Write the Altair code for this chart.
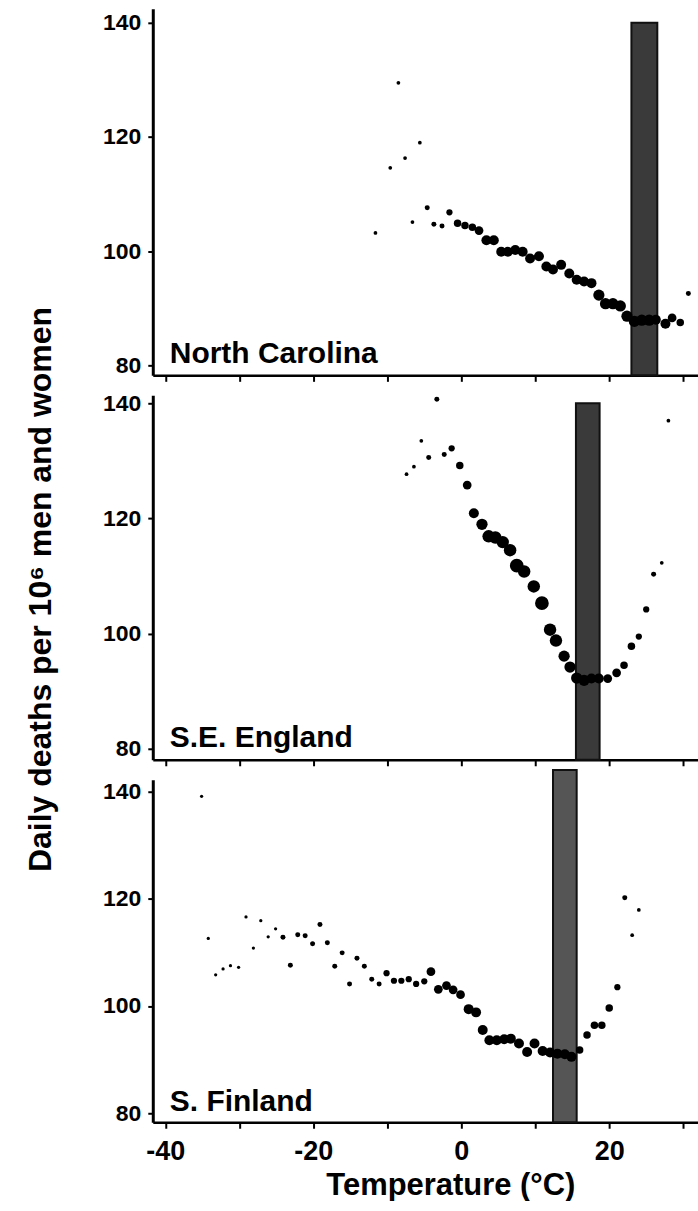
import altair as alt
import pandas as pd

FONT = "Liberation Sans"

# ---- North Carolina ----
nc_temp = [-11.6, -9.6, -8.5, -7.6, -6.6, -5.6, -4.6, -3.7, -2.6, -1.6, -0.5, 0.5, 1.5, 2.4,
           3.4, 4.4, 5.4, 6.3, 7.3, 8.3, 9.3, 10.5, 11.5, 12.4, 13.5, 14.6, 15.6, 16.6, 17.6,
           18.6, 19.5, 20.5, 21.5, 22.4, 23.4, 24.4, 25.4, 26.3, 27.6, 28.5, 29.6, 30.7]
nc_deaths = [103.2, 114.6, 129.5, 116.3, 105.1, 119.0, 107.6, 104.7, 104.4, 106.8, 104.9, 104.5,
             104.2, 103.6, 101.9, 101.9, 99.9, 99.9, 100.2, 99.9, 98.7, 99.1, 97.3, 96.8, 97.6,
             96.1, 95.0, 94.7, 94.4, 92.3, 90.8, 90.8, 90.4, 88.6, 87.7, 87.9, 87.9, 88.0, 87.3,
             88.3, 87.5, 92.6]
nc_weight = [1.5, 1.5, 1.5, 1.5, 1.5, 1.5, 2, 2, 2, 2.5, 3, 3, 3, 3.5, 4, 4, 4, 4, 4, 4, 4, 4, 4,
             4, 4, 4, 4, 4, 4, 4.5, 4.5, 4.5, 4.5, 4.5, 4.5, 4.5, 4.5, 4, 4, 3.5, 3, 2]

# ---- S.E. England ----
se_temp = [-7.4, -6.4, -5.4, -4.4, -3.3, -2.3, -1.3, -0.2, 0.8, 1.7, 2.8, 3.7, 4.6, 5.6, 6.6,
           7.5, 8.5, 9.8, 10.9, 12.0, 12.8, 13.9, 14.7, 15.6, 16.6, 17.6, 18.6, 19.8, 21.0,
           22.0, 23.0, 24.0, 25.0, 26.0, 27.1, 28.0]
se_deaths = [127.7, 129.0, 133.5, 130.6, 140.7, 131.1, 132.2, 129.2, 125.8, 120.9, 119.0, 116.9,
             116.7, 115.9, 114.5, 111.8, 110.8, 108.2, 105.3, 100.7, 98.8, 96.1, 94.2, 92.3,
             91.9, 92.2, 92.2, 92.2, 93.2, 94.5, 97.8, 99.5, 104.2, 110.3, 112.3, 137.0]
se_weight = [1.5, 1.5, 1.5, 2, 2, 2, 2.5, 3, 3.5, 4, 4.5, 5, 5, 5, 5, 5.5, 5, 5, 5.5, 5, 5, 4.5,
             4.5, 4.5, 4.5, 4, 4, 3.5, 3.5, 3, 3, 2.5, 2.5, 2, 1.5, 1.5]

# ---- S. Finland ----
sf_temp = [-35.1, -34.2, -33.2, -32.2, -31.2, -30.1, -29.1, -28.1, -27.1, -26.1, -25.1, -24.1,
           -23.1, -22.1, -21.1, -20.1, -19.1, -18.1, -17.1, -16.1, -15.1, -14.1, -13.1, -12.1,
           -11.1, -10.1, -9.1, -8.1, -7.1, -6.1, -5.0, -4.1, -3.1, -2.0, -1.1, -0.1, 1.0, 2.0,
           2.9, 3.8, 4.8, 5.8, 6.7, 7.8, 8.9, 9.9, 11.0, 12.0, 13.0, 14.0, 14.9, 16.0, 17.0,
           18.0, 19.0, 20.0, 21.1, 22.1, 23.1, 24.0]
sf_deaths = [139.1, 112.6, 105.8, 106.9, 107.5, 107.2, 116.6, 110.8, 115.9, 112.9, 114.4, 112.8,
             107.6, 113.3, 113.1, 111.6, 115.2, 111.8, 107.4, 109.9, 104.1, 108.9, 107.4, 105.0,
             104.1, 106.1, 104.7, 104.7, 105.0, 104.1, 104.6, 106.4, 103.1, 103.8, 103.0, 102.1,
             99.4, 98.8, 95.5, 93.6, 93.6, 93.8, 93.9, 93.0, 91.4, 93.0, 91.6, 91.3, 91.1, 91.0,
             90.5, 91.8, 94.6, 96.4, 96.4, 99.6, 103.5, 120.2, 113.2, 117.9]
sf_weight = [1.3, 1.3, 1.3, 1.3, 1.3, 1.3, 1.3, 1.3, 1.3, 1.3, 1.3, 2, 2, 2, 2, 2, 2, 2, 2, 2, 2,
             2, 2, 2, 2, 2.5, 2.5, 2.5, 2.5, 2.5, 2.5, 3.5, 3.5, 3.5, 3.5, 3.5, 4, 4, 4, 4, 4, 4,
             4, 4, 4, 4, 4, 4, 4, 4, 4, 3, 3, 3, 3, 3, 2.5, 2, 1.5, 1.5]

regions = ["North Carolina", "S.E. England", "S. Finland"]
# comfort zone bands (°C) and their top (deaths)
band_lo = [23.0, 15.5, 12.4]
band_hi = [26.5, 18.7, 15.6]
band_top = [140.0, 140.0, 144.0]
band_fill = ["#3a3a3a", "#3a3a3a", "#555555"]

y_domains = [[78.25, 142.45], [78.1, 141.4], [78.3, 142.2]]
heights = [367, 365, 343]

x_ticks = [-40, -30, -20, -10, 0, 10, 20, 30]
y_ticks = [80, 100, 120, 140]

X_DOMAIN = [-41.7, 32.0]
WIDTH = 546


def panel(i, temps, deaths, weights):
    df = pd.DataFrame({"temp": temps, "deaths": deaths, "weight": weights})
    last = i == 2
    xscale = alt.Scale(domain=X_DOMAIN, nice=False, zero=False)
    yscale = alt.Scale(domain=y_domains[i], nice=False, zero=False)
    xaxis_kw = dict(values=x_ticks, grid=False, tickSize=6, tickWidth=2, domainWidth=2.5,
                    domainColor="black", tickColor="black", labelColor="black",
                    labelFont=FONT, labelFontSize=27, labelFontWeight="bold",
                    labelPadding=10, labelFlush=False, labelOverlap=False)
    if last:
        xaxis = alt.Axis(title="Temperature (°C)", titleFont=FONT, titleFontSize=31,
                         titleFontWeight="bold", titleColor="black", titlePadding=6,
                         titleX=298,
                         labelExpr="datum.value % 20 == 0 ? '' + datum.value : ''",
                         **xaxis_kw)
    else:
        xaxis = alt.Axis(title=None, labels=False, **xaxis_kw)
    yaxis_kw = dict(values=y_ticks, grid=False, tickSize=5, tickWidth=2, domainWidth=3,
                    domainColor="black", tickColor="black", labelColor="black",
                    labelFont=FONT, labelFontSize=23, labelFontWeight="bold",
                    labelPadding=7, labelFlush=False, labelOverlap=False)
    if i == 1:
        yaxis = alt.Axis(title="Daily deaths per 10⁶ men and women", titleFont=FONT,
                         titleFontSize=32, titleFontWeight="bold", titleColor="black",
                         titleX=-112, titleY=194, titleBaseline="middle", **yaxis_kw)
    else:
        yaxis = alt.Axis(title=None, **yaxis_kw)

    bdf = pd.DataFrame({"lo": [band_lo[i]], "hi": [band_hi[i]], "top": [band_top[i]],
                        "bottom": [y_domains[i][0]]})
    band = alt.Chart(bdf).mark_rect(fill=band_fill[i], stroke="#111111", strokeWidth=2,
                                    clip=False).encode(
        x=alt.X("lo:Q", scale=xscale, axis=xaxis),
        x2="hi:Q",
        y=alt.Y("top:Q", scale=yscale, axis=yaxis),
        y2="bottom:Q",
    )
    pts = alt.Chart(df).mark_circle(color="black", opacity=1).encode(
        x=alt.X("temp:Q", scale=xscale, axis=xaxis),
        y=alt.Y("deaths:Q", scale=yscale, axis=yaxis),
        size=alt.Size("weight:Q", scale=alt.Scale(type="pow", exponent=2, domain=[0, 6],
                                                   range=[0, 225]), legend=None),
    )
    ldf = pd.DataFrame({"name": [regions[i]], "x": [-39.4], "y": [80.4]})
    label = alt.Chart(ldf).mark_text(align="left", baseline="alphabetic", font=FONT,
                                     fontSize=30, fontWeight="bold", color="black").encode(
        x=alt.X("x:Q", scale=xscale, axis=xaxis),
        y=alt.Y("y:Q", scale=yscale, axis=yaxis),
        text="name:N",
    )
    return alt.layer(band, pts, label).properties(width=WIDTH, height=heights[i])


chart = alt.vconcat(
    panel(0, nc_temp, nc_deaths, nc_weight),
    panel(1, se_temp, se_deaths, se_weight),
    panel(2, sf_temp, sf_deaths, sf_weight),
    spacing=20, bounds="flush",
).configure_view(strokeWidth=0).properties(
    padding={"left": 24, "top": 8, "right": 0, "bottom": 0},
    background="white",
)

chart.save("out.html", embed_options={"renderer": "svg", "actions": False})
